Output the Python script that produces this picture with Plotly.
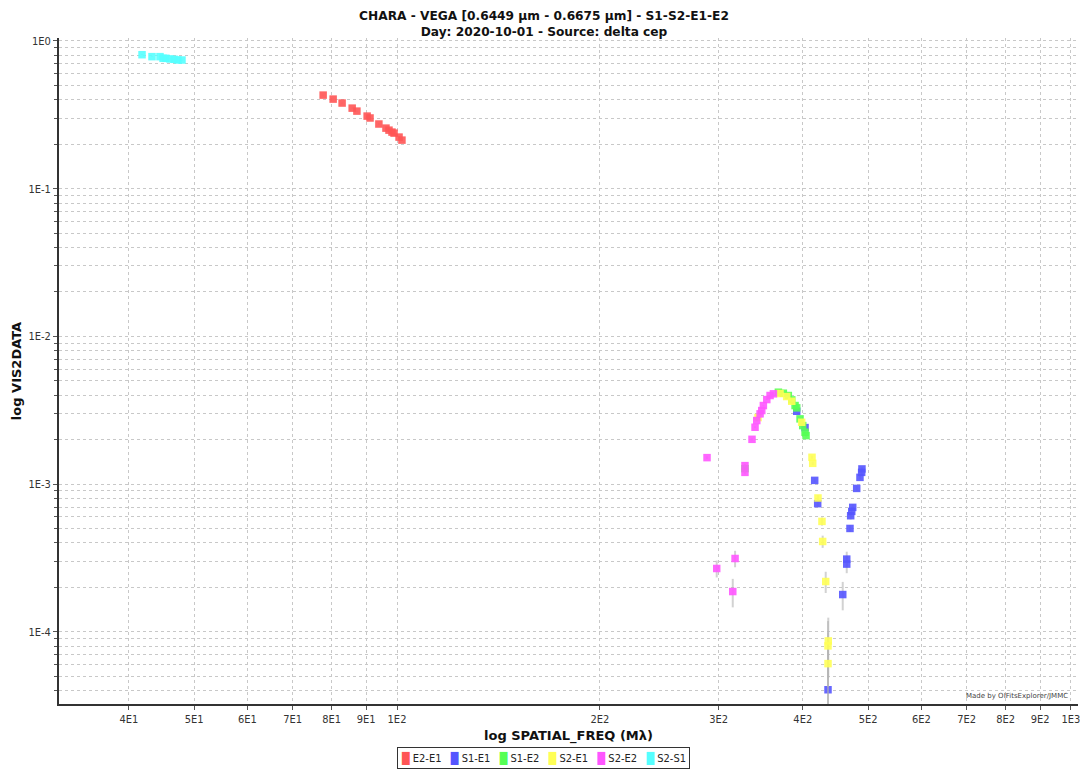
import plotly.graph_objects as go

# ---- data ----
cyan_x = [41.85, 43.3, 44.5, 44.97, 45.4, 46.05, 46.7, 47.3, 47.97]
cyan_y = [0.807, 0.783, 0.783, 0.763, 0.763, 0.755, 0.751, 0.743, 0.743]
cyan_e = [0.005] * 9

red_x = [77.7, 80.4, 82.9, 85.8, 87.2, 90.3, 91.2, 94.0, 96.3, 97.3, 98.3, 99.0, 100.7, 101.7]
red_y = [0.430, 0.404, 0.380, 0.351, 0.335, 0.310, 0.301, 0.274, 0.257, 0.249, 0.2416, 0.2378, 0.2235, 0.2132]
red_e = [0.003] * 14

mag_x = [288.4, 298.1, 314.9, 317.4, 328.3, 328.3, 336.3, 339.8, 341.8, 345.7, 347.7, 349.6, 353.7, 357.7, 361.8]
mag_y = [1.512e-3, 2.687e-4, 1.876e-4, 3.139e-4, 1.335e-3, 1.202e-3, 2.012e-3, 2.428e-3, 2.695e-3,
         2.991e-3, 3.15e-3, 3.405e-3, 3.739e-3, 3.981e-3, 4.088e-3]
mag_e = [3.5e-5, 3.5e-5, 4.1e-5, 4.0e-5, 3.5e-5, 3.5e-5, 3.5e-5, 3.5e-5, 3.5e-5,
         3.5e-5, 3.5e-5, 3.5e-5, 3.5e-5, 3.5e-5, 3.5e-5]

grn_x = [328.3, 368.0, 374.3, 380.7, 385.2, 389.6, 391.8, 396.3, 399.9, 403.1, 404.5]
grn_y = [1.274e-3, 4.192e-3, 4.127e-3, 3.981e-3, 3.721e-3, 3.405e-3, 3.285e-3, 2.767e-3, 2.492e-3, 2.245e-3, 2.132e-3]
grn_e = [3.5e-5] * 11

yel_x = [343.3, 370.1, 378.6, 385.2, 398.5, 412.8, 413.8, 421.3, 427.1, 428.1, 432.6, 436.4, 436.0, 436.0]
yel_y = [2.824e-3, 4.107e-3, 3.919e-3, 3.642e-3, 2.624e-3, 1.52e-3, 1.384e-3, 8.06e-4, 5.596e-4,
         4.094e-4, 2.193e-4, 8.69e-5, 8.04e-5, 6.1e-5]
yel_e = [3.5e-5, 3.5e-5, 3.5e-5, 3.5e-5, 3.5e-5, 3.5e-5, 3.5e-5, 3.5e-5, 3.5e-5,
         3.9e-5, 3.6e-5, 3.8e-5, 3.8e-5, 3.8e-5]

blu_x = [391.8, 403.1, 416.6, 420.9, 489.6, 489.1, 486.3, 480.9, 474.4, 472.8, 471.1, 470.0, 464.8, 464.8, 458.5, 436.0]
blu_y = [3.115e-3, 2.415e-3, 1.061e-3, 7.38e-4, 1.268e-3, 1.202e-3, 1.112e-3, 9.36e-4, 6.965e-4,
         6.54e-4, 6.115e-4, 5.015e-4, 3.11e-4, 2.877e-4, 1.79e-4, 4.06e-5]
blu_e = [3.5e-5, 3.5e-5, 3.5e-5, 3.5e-5, 3.5e-5, 3.5e-5, 3.5e-5, 3.5e-5, 3.5e-5,
         3.5e-5, 3.5e-5, 2.5e-5, 3.8e-5, 3.8e-5, 3.9e-5, 4.5e-5]

series_names = ["E2-E1", "S1-E1", "S1-E2", "S2-E1", "S2-E2", "S2-S1"]
series_colors = ["#ff5555", "#5555ff", "#55ff55", "#ffff55", "#ff55ff", "#55ffff"]
series_data = [(red_x, red_y, red_e), (blu_x, blu_y, blu_e), (grn_x, grn_y, grn_e),
               (yel_x, yel_y, yel_e), (mag_x, mag_y, mag_e), (cyan_x, cyan_y, cyan_e)]

x_tickvals = [40, 50, 60, 70, 80, 90, 100, 200, 300, 400, 500, 600, 700, 800, 900, 1000]
x_ticktext = ["4E1", "5E1", "6E1", "7E1", "8E1", "9E1", "1E2", "2E2", "3E2", "4E2",
              "5E2", "6E2", "7E2", "8E2", "9E2", "1E3"]
y_tickvals = [1e-4, 1e-3, 1e-2, 1e-1, 1]
y_ticktext = ["1E-4", "1E-3", "1E-2", "1E-1", "1E0"]
y_minor = [m * d for d in [1e-5, 1e-4, 1e-3, 1e-2, 1e-1] for m in range(2, 10)]

fig = go.Figure()
for name, col, (xs, ys, es) in zip(series_names, series_colors, series_data):
    fig.add_trace(go.Scatter(
        x=xs, y=ys, mode="markers", name=name,
        marker=dict(symbol="square", size=7.5, color=col, opacity=0.9, line=dict(width=0)),
        error_y=dict(type="data", array=es, visible=True, color="rgba(180,180,180,0.6)",
                     thickness=2, width=0),
    ))

grid = dict(showgrid=True, gridcolor="#c8c8c8", gridwidth=1, griddash="dot")
fig.update_xaxes(
    type="log", range=[1.4985, 3.0104], tickmode="array", tickvals=x_tickvals, ticktext=x_ticktext,
    tickangle=0, automargin=False,
    showline=True, linecolor="#333333", linewidth=2, ticks="outside", ticklen=4, tickcolor="#555",
    zeroline=False, tickfont=dict(family="DejaVu Sans Condensed, DejaVu Sans", size=11, color="#333"),
    title=dict(text="<b>log SPATIAL_FREQ (Mλ)</b>", font=dict(family="DejaVu Sans", size=13, color="#111"),
               standoff=6),
    **grid,
)
fig.update_yaxes(
    type="log", range=[-4.488, 0.02], tickmode="array", tickvals=y_tickvals, ticktext=y_ticktext,
    automargin=False,
    showline=True, linecolor="#333333", linewidth=2, ticks="outside", ticklen=4, tickcolor="#555",
    zeroline=False, tickfont=dict(family="DejaVu Sans Condensed, DejaVu Sans", size=11, color="#333"),
    title=dict(text="<b>log VIS2DATA</b>", font=dict(family="DejaVu Sans", size=13, color="#111"),
               standoff=4),
    minor=dict(tickmode="array", tickvals=y_minor, ticks="outside", ticklen=3, tickcolor="#555",
               showgrid=True, gridcolor="#c8c8c8", gridwidth=1, griddash="dot"),
    **grid,
)

fig.add_annotation(text="Made by OIFitsExplorer/JMMC", xref="paper", yref="paper", x=0.992, y=0.003,
                   xanchor="right", yanchor="bottom", showarrow=False,
                   font=dict(family="DejaVu Sans", size=7, color="#444"))

# legend drawn as a boxed text line (compact, like the reference)
legend_text = "&nbsp;&nbsp;&nbsp;".join(
    f"<span style='color:{c}'>█</span> {n}" for n, c in zip(series_names, series_colors))
fig.add_annotation(text=legend_text, xref="paper", yref="paper", x=0.4755, y=-0.081,
                   xanchor="center", yanchor="middle", showarrow=False,
                   bordercolor="#333", borderwidth=1, borderpad=3, bgcolor="white",
                   font=dict(family="DejaVu Sans Condensed, DejaVu Sans", size=11, color="#222"))

fig.update_layout(
    width=1080, height=763, autosize=False,
    margin=dict(l=51, r=10, t=30, b=67, autoexpand=False),
    paper_bgcolor="white", plot_bgcolor="white",
    title=dict(text="<b>CHARA - VEGA [0.6449 µm - 0.6675 µm] - S1-S2-E1-E2<br>Day: 2020-10-01 - Source: delta cep</b>",
               x=0.4963, xref="container", xanchor="center", y=0.9845, yref="container", yanchor="middle",
               font=dict(family="DejaVu Sans", size=12.2, color="#111")),
    showlegend=False,
)

fig.write_html("out.html")
